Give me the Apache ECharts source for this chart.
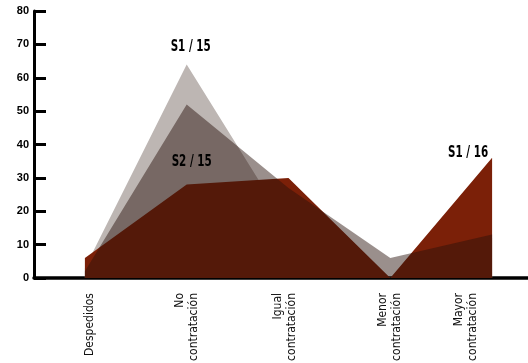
<!DOCTYPE html>
<html>
<head>
<meta charset="utf-8">
<script src="https://cdn.jsdelivr.net/npm/echarts@6/dist/echarts.min.js"></script>
<style>
html,body{margin:0;padding:0;background:#fff;}
#chart{width:528px;height:363px;}
</style>
</head>
<body>
<div id="chart"></div>
<script>
// ---- data ----
const categories = ['Despedidos', 'No\ncontratación', 'Igual\ncontratación', 'Menor\ncontratación', 'Mayor\ncontratación'];
const seriesNames = ['S1 / 15', 'S2 / 15', 'S1 / 16'];
const s1_15 = [3, 64, 15, 0, 12];
const s2_15 = [2, 52, 27, 6, 13];
const s1_16 = [6, 28, 30, 0, 36];
const yMin = 0, yMax = 80, yStep = 10;

const narrow = '"Liberation Sans Narrow", "Arial Narrow", "DejaVu Sans Condensed", "Roboto Condensed", Roboto, sans-serif';

// small per-label nudges in px (positive = to the right)
const labelShift = [5, 0, -4, 0, -26];

const chart = echarts.init(document.getElementById('chart'), null, {renderer: 'canvas'});

function areaSeries(name, data, color, z) {
  return {
    name: name,
    type: 'line',
    data: data,
    symbol: 'none',
    z: z,
    lineStyle: {width: 0, opacity: 0},
    areaStyle: {color: color, opacity: 1},
    itemStyle: {color: color},
    animation: false
  };
}

const rich = {t: {fontFamily: narrow, fontSize: 12, lineHeight: 14, color: '#111'}};
labelShift.forEach((s, i) => {
  rich['e' + i] = {fontSize: 1, lineHeight: Math.max(1, Math.abs(s) * 2)};
});

const option = {
  animation: false,
  grid: {left: 34, right: -15, top: 11, bottom: 85, containLabel: false, outerBoundsMode: 'none'},
  xAxis: {
    type: 'category',
    data: categories,
    boundaryGap: true,
    axisLine: {show: true, lineStyle: {color: '#000', width: 3.5}},
    axisTick: {show: false},
    axisLabel: {
      rotate: 90,
      interval: 0,
      margin: 15,
      fontFamily: narrow,
      fontSize: 12,
      lineHeight: 14,
      color: '#111',
      rich: rich,
      formatter: function (value, index) {
        const body = value.split('\n').map(s => '{t|' + s + '}').join('\n');
        const s = labelShift[index] || 0;
        if (s > 0) return '{e' + index + '| }\n' + body;
        if (s < 0) return body + '\n{e' + index + '| }';
        return body;
      }
    },
    splitLine: {show: false}
  },
  yAxis: {
    type: 'value',
    min: yMin, max: yMax, interval: yStep,
    axisLine: {show: true, lineStyle: {color: '#000', width: 3}},
    axisTick: {show: true, inside: true, length: 12, lineStyle: {color: '#000', width: 3}},
    axisLabel: {
      margin: 5,
      fontFamily: 'Liberation Sans',
      fontWeight: 'bold',
      fontSize: 11,
      color: '#000',
      padding: [9, 0, 0, 0]
    },
    splitLine: {show: false}
  },
  series: [
    areaSeries(seriesNames[0], s1_15, '#bdb6b3', 1),
    areaSeries(seriesNames[2], s1_16, '#7b2008', 2),
    areaSeries(seriesNames[1], s2_15, 'rgba(40,17,11,0.47)', 3)
  ]
};
chart.setOption(option);

// series name labels anchored at data points
const labelFont = 'bold 16px ' + narrow;
function labelAt(text, catIdx, value, dx, dy, align, vAlign) {
  const p = chart.convertToPixel({gridIndex: 0}, [catIdx, value]);
  return {
    type: 'text',
    x: p[0] + dx, y: p[1] + dy,
    scaleX: 0.72,
    z: 10,
    style: {text: text, font: labelFont, fill: '#000', align: align, verticalAlign: vAlign}
  };
}
chart.setOption({
  graphic: [
    labelAt(seriesNames[0], 1, s1_15[1], 4, -10, 'center', 'bottom'),
    labelAt(seriesNames[1], 1, s2_15[1], 5, 49, 'center', 'top'),
    labelAt(seriesNames[2], 4, s1_16[4], -4, 3, 'right', 'bottom')
  ]
});
</script>
</body>
</html>
